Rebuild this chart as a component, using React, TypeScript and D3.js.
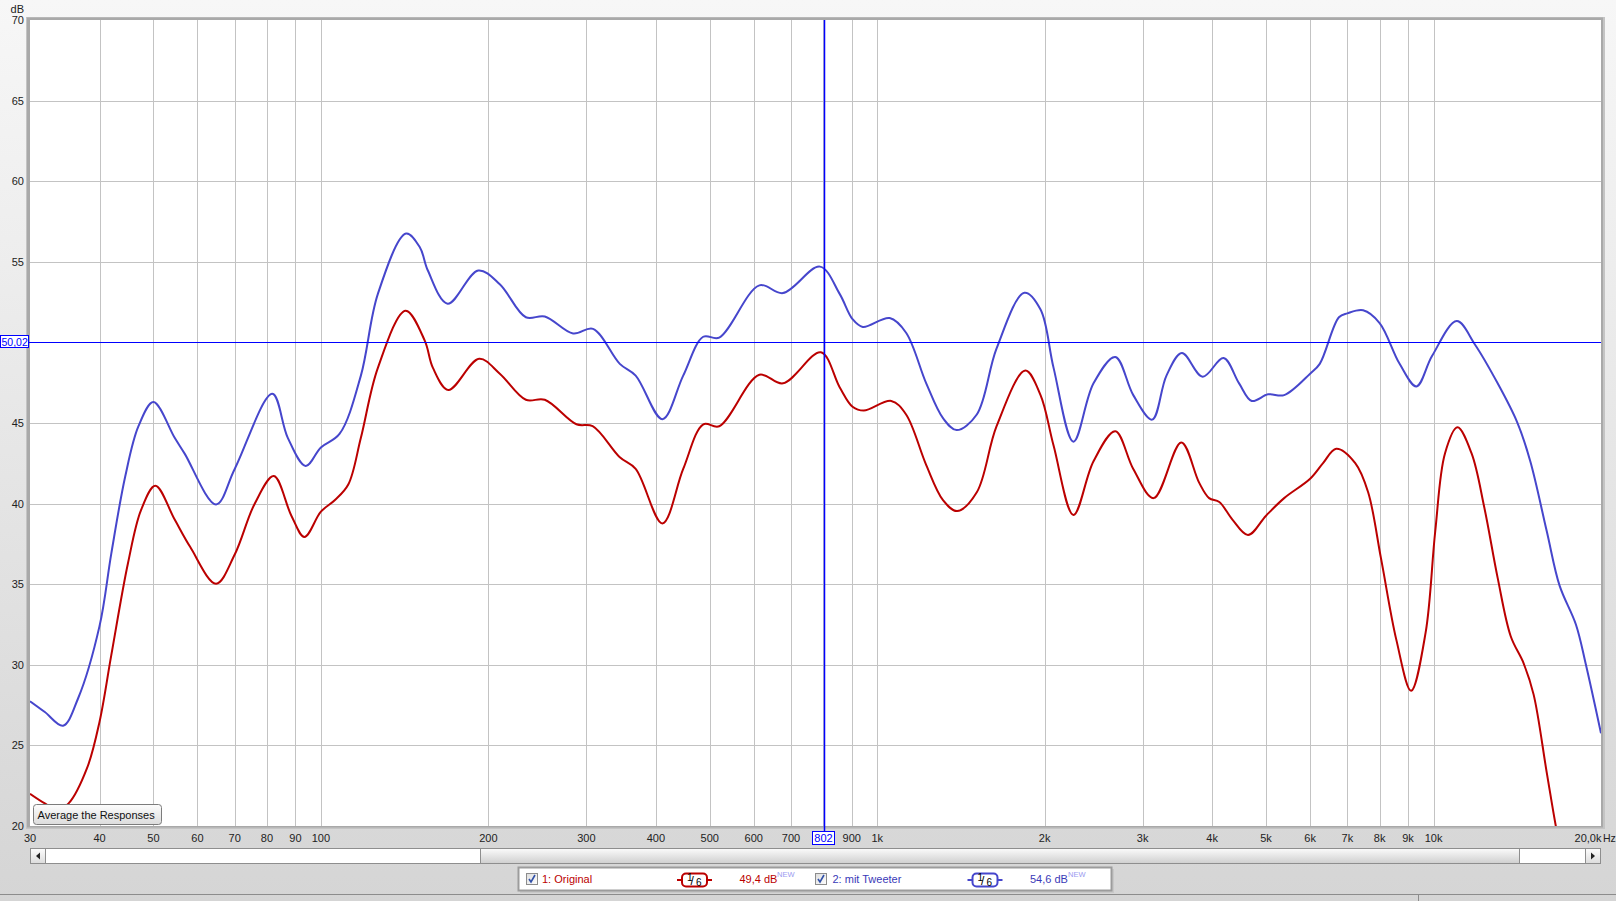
import * as d3 from 'd3';

// Frequency response, two measurements (1/6 octave smoothing)
const origFreq = [30, 31.9, 33.6, 35.2, 38, 40, 42, 45, 47.5, 50.4, 54.6, 58.2, 64.8, 70, 76, 82.3, 88.5, 93.4, 100, 106, 112, 118, 126.6, 142, 153.7, 159, 169.5, 192.5, 209.7, 233.6, 252.6, 288, 308, 344.6, 368, 411, 448, 487, 520, 614, 677, 792, 856, 903, 946, 1060, 1127, 1225, 1313, 1392, 1510, 1639, 1846, 1966, 2075, 2253, 2448, 2679, 2886, 3140, 3520, 3790, 3950, 4120, 4350, 4640, 5000, 5389, 6000, 6330, 6685, 7232, 7629, 8046, 8576, 9112, 9679, 10072, 10485, 11040, 11706, 12342, 13040, 13764, 14525, 15134, 15975, 16640, 17300];
const origDb = [22.0, 21.4, 21.0, 21.4, 23.6, 26.46, 30.6, 36.3, 39.6, 41.11, 39.01, 37.32, 35.03, 36.84, 39.98, 41.71, 39.25, 37.93, 39.5, 40.22, 41.18, 44.08, 48.42, 51.97, 50.11, 48.42, 47.05, 48.98, 48.06, 46.44, 46.44, 44.92, 44.8, 42.87, 42.15, 38.77, 42.15, 44.92, 44.8, 47.99, 47.46, 49.39, 47.22, 46.01, 45.77, 46.37, 45.53, 42.39, 40.22, 39.54, 40.7, 44.8, 48.25, 46.73, 43.6, 39.3, 42.63, 44.49, 42.15, 40.34, 43.79, 41.3, 40.34, 40.1, 39.01, 38.05, 39.25, 40.34, 41.54, 42.51, 43.4, 42.51, 40.7, 36.6, 31.53, 28.39, 32.01, 38.3, 43.11, 44.73, 43.11, 39.74, 35.39, 31.77, 30.08, 28.15, 23.33, 19.75, 17.0];

const tweetFreq = [30, 31.9, 34.4, 36.6, 40, 42, 44.5, 47, 50, 54.6, 56.9, 64.8, 70, 81.8, 87.2, 93.9, 100, 108, 118, 126.6, 142.3, 150.6, 155.7, 169, 191.8, 209.7, 233.6, 252.6, 284, 308.4, 344.6, 368, 411, 448, 486.7, 520, 614, 677, 789, 856, 903, 942, 1053, 1127, 1225, 1313, 1389, 1510, 1639, 1839, 1966, 2075, 2253, 2448, 2679, 2886, 3121, 3311, 3529, 3846, 4192, 4472, 4712, 5043, 5389, 6000, 6244, 6760, 7000, 7473, 8000, 8690, 9318, 9937, 11010, 11868, 13040, 14140, 14925, 15975, 16850, 18027, 18768, 20000];
const tweetDb = [27.74, 27.07, 26.22, 27.91, 32.4, 36.9, 41.7, 44.8, 46.3, 44.08, 43.1, 39.95, 42.15, 46.81, 44.08, 42.34, 43.48, 44.32, 47.94, 53.01, 56.75, 55.9, 54.46, 52.4, 54.46, 53.61, 51.56, 51.61, 50.55, 50.84, 48.67, 47.94, 45.24, 47.94, 50.35, 50.3, 53.54, 53.06, 54.7, 53.01, 51.44, 50.96, 51.51, 50.6, 47.46, 45.3, 44.56, 45.53, 49.63, 53.08, 52.04, 48.42, 43.84, 47.46, 49.1, 46.73, 45.21, 47.94, 49.34, 47.87, 49.03, 47.46, 46.37, 46.78, 46.73, 48.06, 48.67, 51.56, 51.8, 51.99, 51.2, 48.67, 47.27, 49.15, 51.32, 49.87, 47.46, 45.04, 42.63, 38.3, 34.91, 32.5, 30.08, 25.75];

const gridFreqs = [40, 50, 60, 70, 80, 90, 100, 200, 300, 400, 500, 600, 700, 800, 900, 1000, 2000, 3000, 4000, 5000, 6000, 7000, 8000, 9000, 10000];
const freqLabels: [number, string][] = [[30, '30'], [40, '40'], [50, '50'], [60, '60'], [70, '70'], [80, '80'], [90, '90'], [100, '100'], [200, '200'], [300, '300'], [400, '400'], [500, '500'], [600, '600'], [700, '700'], [900, '900'], [1000, '1k'], [2000, '2k'], [3000, '3k'], [4000, '4k'], [5000, '5k'], [6000, '6k'], [7000, '7k'], [8000, '8k'], [9000, '9k'], [10000, '10k']];
const dbTicks = [20, 25, 30, 35, 40, 45, 55, 60, 65, 70];
const dbGrid = [25, 30, 35, 40, 45, 50, 55, 60, 65];

const cursorFreq = 802;
const cursorDb = 50.02;

const RED = '#bb0000';
const BLUE = '#4646cc';
const FONT = '"Liberation Sans", Arial, sans-serif';

export default function App() {
    const left = 30, right = 1601, top = 20, bottom = 826;
    const x = d3.scaleLog().domain([30, 20000]).range([left, right]);
    const y = d3.scaleLinear().domain([20, 70]).range([bottom, top]);

    const line = d3.line<[number, number]>()
        .x(d => x(d[0]))
        .y(d => y(d[1]))
        .curve(d3.curveCatmullRom.alpha(0.5));

    const origPath = line(origFreq.map((f, i) => [f, origDb[i]]))!;
    const tweetPath = line(tweetFreq.map((f, i) => [f, tweetDb[i]]))!;

    const cx = Math.round(x(cursorFreq)) + 0.5;
    const cy = Math.round(y(cursorDb)) + 0.5;

    const checkbox = (bx: number, by: number) => (
        <g>
            <rect x={bx + 0.5} y={by + 0.5} width={11} height={11} fill="url(#cbFill)" stroke="#8c8c8c" />
            <path d={`M${bx + 3},${by + 6} L${bx + 5},${by + 9} L${bx + 9},${by + 2}`} fill="none" stroke="#3050a8" strokeWidth={1.6} />
        </g>
    );

    const badge = (bx: number, color: string) => (
        <g>
            <line x1={bx} x2={bx + 35} y1={880} y2={880} stroke={color} strokeWidth={2} />
            <rect x={bx + 5} y={873.5} width={25} height={13} rx={4} fill="#fff" stroke={color} strokeWidth={2} />
            <text x={bx + 10} y={881} fontSize={10} fill="#000">1</text>
            <text x={bx + 13.5} y={884.5} fontSize={12} fill="#000">/</text>
            <text x={bx + 19} y={885.5} fontSize={10} fill="#000">6</text>
        </g>
    );

    return (
        <svg width={1616} height={901} style={{ position: 'fixed', left: 0, top: 0, display: 'block' }} fontFamily={FONT}>
            <defs>
                <linearGradient id="bg" x1="0" y1="0" x2="0" y2="1">
                    <stop offset="0" stopColor="#f7f7f7" />
                    <stop offset="1" stopColor="#d5d5d5" />
                </linearGradient>
                <linearGradient id="thumb" x1="0" y1="0" x2="0" y2="1">
                    <stop offset="0" stopColor="#fbfbfb" />
                    <stop offset="1" stopColor="#cfcfcf" />
                </linearGradient>
                <linearGradient id="btn" x1="0" y1="0" x2="0" y2="1">
                    <stop offset="0" stopColor="#fdfdfd" />
                    <stop offset="1" stopColor="#dcdcdc" />
                </linearGradient>
                <linearGradient id="cbFill" x1="0" y1="0" x2="1" y2="1">
                    <stop offset="0" stopColor="#dcdcdc" />
                    <stop offset="1" stopColor="#ffffff" />
                </linearGradient>
                <clipPath id="plotClip">
                    <rect x={left} y={top} width={right - left} height={bottom - top} />
                </clipPath>
            </defs>

            <rect x={0} y={0} width={1616} height={901} fill="url(#bg)" />

            {/* plot frame */}
            <rect x={26} y={17} width={1579} height={812} fill="#c4c4c4" />
            <rect x={27} y={17.5} width={1576} height={810} fill="#a9a9a9" />
            <rect x={left} y={top} width={right - left} height={bottom - top} fill="#fff" />

            {/* grid */}
            {gridFreqs.map(f => (
                <line key={'gx' + f} x1={Math.round(x(f)) + 0.5} x2={Math.round(x(f)) + 0.5} y1={top} y2={bottom} stroke="#c3c3c3" />
            ))}
            {dbGrid.map(d => (
                <line key={'gy' + d} x1={left} x2={right} y1={Math.round(y(d)) + 0.5} y2={Math.round(y(d)) + 0.5} stroke="#c3c3c3" />
            ))}

            {/* curves */}
            <g clipPath="url(#plotClip)">
                <path d={tweetPath} fill="none" stroke={BLUE} strokeWidth={2} />
                <path d={origPath} fill="none" stroke={RED} strokeWidth={2} />
            </g>

            {/* cursors */}
            <line x1={cx} x2={cx} y1={top} y2={831} stroke="#0000ff" strokeWidth={1.5} />
            <line x1={28} x2={right} y1={cy} y2={cy} stroke="#0000ff" />

            {/* y axis */}
            <text x={24} y={13} fontSize={11} textAnchor="end" fill="#222">dB</text>
            {dbTicks.map(d => (
                <text key={'ty' + d} x={24} y={y(d) + 4} fontSize={11} textAnchor="end" fill="#222">{d}</text>
            ))}
            <rect x={0.5} y={335.5} width={28} height={12} fill="#fff" stroke="#0000ff" />
            <text x={1.5} y={345.5} fontSize={10.5} fill="#0000ff">50,02</text>

            {/* x axis */}
            {freqLabels.map(([f, s]) => (
                <text key={'tx' + f} x={x(f)} y={842} fontSize={11} textAnchor="middle" fill="#222">{s}</text>
            ))}
            <text x={1601.5} y={842} fontSize={11} textAnchor="end" fill="#222">20,0k</text>
            <text x={1603} y={842} fontSize={10.5} fill="#222">Hz</text>
            <rect x={812.5} y={831.5} width={22} height={13} fill="#fff" stroke="#0000ff" />
            <text x={823.5} y={842} fontSize={11} textAnchor="middle" fill="#0000ff">802</text>

            {/* button */}
            <rect x={33.5} y={804.5} width={128} height={20} rx={3} fill="url(#btn)" stroke="#7c7c7c" />
            <text x={37.5} y={818.5} fontSize={11} fill="#111">Average the Responses</text>

            {/* scrollbar */}
            <rect x={30.5} y={848.5} width={1570} height={15} fill="#fff" stroke="#8e8e8e" />
            <rect x={30.5} y={848.5} width={15} height={15} fill="url(#btn)" stroke="#8e8e8e" />
            <path d="M36,856 L40,852.5 L40,859.5 Z" fill="#222" />
            <rect x={480.5} y={848.5} width={1039} height={15} fill="url(#thumb)" stroke="#8e8e8e" />
            <rect x={1585.5} y={848.5} width={15} height={15} fill="url(#btn)" stroke="#8e8e8e" />
            <path d="M1595,856 L1591,852.5 L1591,859.5 Z" fill="#222" />

            {/* legend */}
            <rect x={520} y={869} width={594} height={24} fill="#c8c8c8" />
            <rect x={518.5} y={867.5} width={593} height={23} fill="#fff" stroke="#9c9c9c" strokeWidth={2} />
            {checkbox(526, 873)}
            <text x={542} y={883} fontSize={11} fill={RED}>1: Original</text>
            {badge(677, RED)}
            <text x={739.5} y={883} fontSize={11} fill={RED}>49,4 dB</text>
            <text x={777} y={877} fontSize={7.5} fill="#9a9af0">NEW</text>
            {checkbox(815, 873)}
            <text x={832.5} y={883} fontSize={11} fill="#3a3ab8">2: mit Tweeter</text>
            {badge(967.5, BLUE)}
            <text x={1030} y={883} fontSize={11} fill="#3a3ab8">54,6 dB</text>
            <text x={1068} y={877} fontSize={7.5} fill="#9a9af0">NEW</text>

            {/* status bar */}
            <line x1={0} x2={1616} y1={894.5} y2={894.5} stroke="#8c8c8c" />
            <line x1={1418.5} x2={1418.5} y1={895} y2={901} stroke="#8c8c8c" />
        </svg>
    );
}
